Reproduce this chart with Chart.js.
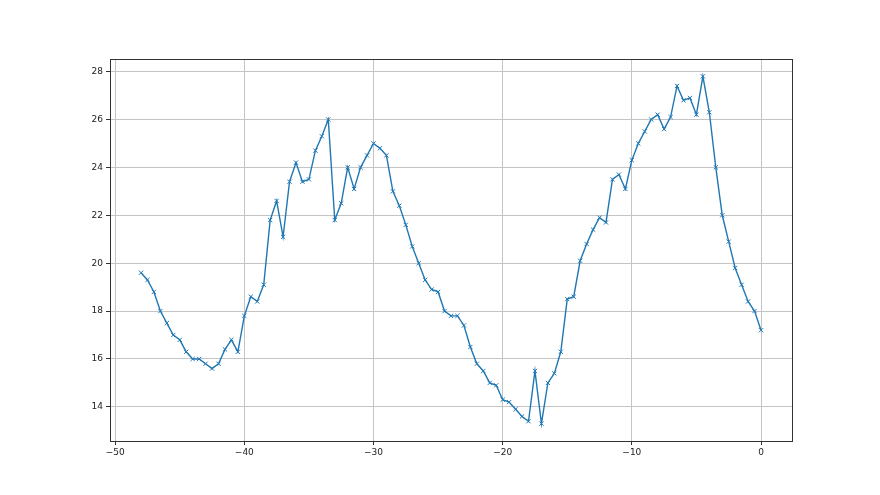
<!DOCTYPE html>
<html>
<head>
<meta charset="utf-8">
<script src="https://cdn.jsdelivr.net/npm/chart.js@4/dist/chart.umd.min.js"></script>
<style>
  html, body { margin: 0; padding: 0; background: #fff; }
  #wrap { width: 880px; height: 495px; }
</style>
</head>
<body>
<div id="wrap"><canvas id="chart"></canvas></div>
<script>
// x positions (hours before now, step 0.5)
const xs = [];
for (let i = 0; i <= 96; i++) xs.push(-48 + i * 0.5);

const values = [
  19.6, 19.3, 18.8, 18.0, 17.5, 17.0, 16.8, 16.3, 16.0, 16.0,
  15.8, 15.6, 15.8, 16.4, 16.8, 16.3, 17.8, 18.6, 18.4, 19.1,
  21.8, 22.6, 21.1, 23.4, 24.2, 23.4, 23.5, 24.7, 25.3, 26.0,
  21.8, 22.5, 24.0, 23.1, 24.0, 24.5, 25.0, 24.8, 24.5, 23.0,
  22.4, 21.6, 20.7, 20.0, 19.3, 18.9, 18.8, 18.0, 17.8, 17.8,
  17.4, 16.5, 15.8, 15.5, 15.0, 14.9, 14.3, 14.2, 13.9, 13.6,
  13.4, 15.5, 13.3, 15.0, 15.4, 16.3, 18.5, 18.6, 20.1, 20.8,
  21.4, 21.9, 21.7, 23.5, 23.7, 23.1, 24.3, 25.0, 25.5, 26.0,
  26.2, 25.6, 26.1, 27.4, 26.8, 26.9, 26.2, 27.8, 26.3, 24.0,
  22.0, 20.9, 19.8, 19.1, 18.4, 18.0, 17.2
];

const xTicks = [-50, -40, -30, -20, -10, 0];
const yTicks = [14, 16, 18, 20, 22, 24, 26, 28];

const points = xs.map((x, i) => ({ x: x, y: values[i] }));

const minus = v => String(v).replace('-', '\u2212');

const frame = {
  id: 'frame',
  afterDraw(chart) {
    const a = chart.chartArea;
    const ctx = chart.ctx;
    ctx.save();
    ctx.strokeStyle = '#333';
    ctx.lineWidth = 1;
    ctx.strokeRect(Math.round(a.left) + 0.5, Math.round(a.top) + 0.5,
      Math.round(a.right - a.left), Math.round(a.bottom - a.top));
    ctx.restore();
  }
};

new Chart(document.getElementById('chart'), {
  type: 'line',
  data: {
    datasets: [{
      data: points,
      borderColor: '#1f77b4',
      backgroundColor: '#1f77b4',
      borderWidth: 1.4,
      pointStyle: 'crossRot',
      pointRadius: 3,
      pointBorderWidth: 1,
      pointHoverRadius: 3,
      tension: 0,
      fill: false
    }]
  },
  options: {
    responsive: true,
    maintainAspectRatio: false,
    animation: false,
    layout: { padding: { top: 59, right: 88, left: 0, bottom: 0 } },
    plugins: { legend: { display: false }, tooltip: { enabled: false } },
    scales: {
      x: {
        type: 'linear',
        min: -50.4,
        max: 2.4,
        afterBuildTicks: s => { s.ticks = xTicks.map(v => ({ value: v })); },
        afterFit: s => { s.height = 54; },
        grid: { color: '#c4c4c4', tickColor: '#333', tickLength: 4 },
        border: { display: false },
        ticks: {
          color: '#222',
          font: { family: 'DejaVu Sans', size: 9 },
          padding: 2,
          maxRotation: 0,
          callback: v => minus(v)
        }
      },
      y: {
        type: 'linear',
        min: 12.575,
        max: 28.525,
        afterBuildTicks: s => { s.ticks = yTicks.map(v => ({ value: v })); },
        afterFit: s => { s.width = 110; },
        grid: { color: '#c4c4c4', tickColor: '#333', tickLength: 4 },
        border: { display: false },
        ticks: {
          color: '#222',
          font: { family: 'DejaVu Sans', size: 9 },
          padding: 3,
          callback: v => minus(v)
        }
      }
    }
  },
  plugins: [frame]
});
</script>
</body>
</html>
